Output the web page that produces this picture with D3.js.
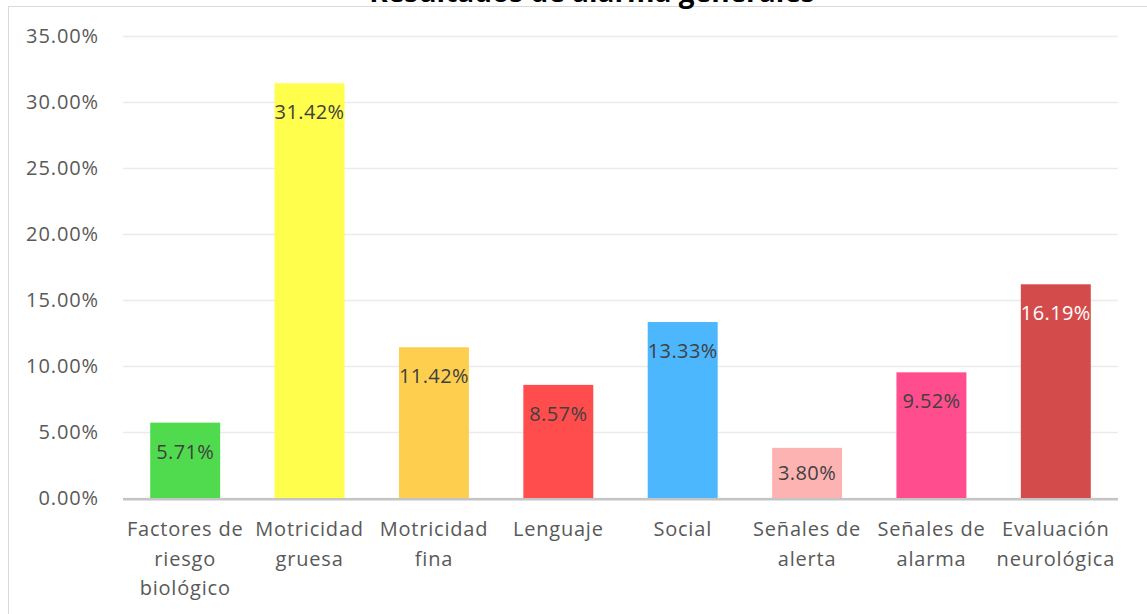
<!DOCTYPE html>
<html>
<head>
<meta charset="utf-8">
<script src="https://cdn.jsdelivr.net/npm/d3@7"></script>
<style>
  html, body { margin: 0; padding: 0; background: #ffffff; }
  svg { display: block; font-family: "Open Sans", sans-serif; }
</style>
</head>
<body>
<svg id="chart" width="1147" height="614"></svg>
<script>
// Chart data
const title = "Resultados de alarma generales";
const categories = [
  "Factores de riesgo biológico",
  "Motricidad gruesa",
  "Motricidad fina",
  "Lenguaje",
  "Social",
  "Señales de alerta",
  "Señales de alarma",
  "Evaluación neurológica"
];
const values = [0.0571, 0.3142, 0.1142, 0.0857, 0.1333, 0.0380, 0.0952, 0.1619];
const valueLabels = ["5.71%", "31.42%", "11.42%", "8.57%", "13.33%", "3.80%", "9.52%", "16.19%"];
const barColors = ["#50db4e", "#fffe4c", "#fecf4f", "#ff4d4d", "#4db7fe", "#feb3b3", "#ff4d8e", "#d44b4b"];
const labelColors = ["#404040", "#404040", "#404040", "#404040", "#404040", "#404040", "#404040", "#ffffff"];
const yTicks = [0, 0.05, 0.10, 0.15, 0.20, 0.25, 0.30, 0.35];

const svg = d3.select("#chart");
const W = 1147, H = 614;
const plot = { left: 123, right: 1118, top: 36, bottom: 498 };

// Outer chart border
svg.append("rect")
  .attr("x", 8.5).attr("y", 6.5)
  .attr("width", W + 20).attr("height", H + 20)
  .attr("fill", "none").attr("stroke", "#d9d9d9").attr("stroke-width", 1);

// Title (sits above the chart frame, mostly outside the page)
svg.append("text")
  .attr("x", 592).attr("y", 1.5)
  .attr("text-anchor", "middle")
  .attr("font-weight", "bold")
  .attr("font-size", 28)
  .attr("fill", "#000")
  .text(title);

const x = d3.scaleBand()
  .domain(categories)
  .range([plot.left, plot.right])
  .paddingInner(0.4375)
  .paddingOuter(0.21875);

const y = d3.scaleLinear()
  .domain([0, 0.35])
  .range([plot.bottom, plot.top]);

// Y axis with horizontal gridlines
const yAxis = d3.axisLeft(y)
  .tickValues(yTicks)
  .tickFormat(d3.format(".2%"))
  .tickSizeInner(-(plot.right - plot.left))
  .tickSizeOuter(0)
  .tickPadding(24);

const yg = svg.append("g")
  .attr("transform", `translate(${plot.left},0)`)
  .call(yAxis);
yg.select(".domain").remove();
yg.selectAll(".tick line").attr("stroke", "#ebebeb").attr("stroke-width", 1.5);
yg.selectAll(".tick text")
  .attr("fill", "#595959")
  .attr("font-size", 20)
  .attr("letter-spacing", "0.9px")
  .attr("font-family", "Open Sans, sans-serif");

// Bars
svg.append("g").selectAll("rect")
  .data(values)
  .join("rect")
  .attr("x", (d, i) => x(categories[i]))
  .attr("y", d => y(d))
  .attr("width", x.bandwidth())
  .attr("height", d => y(0) - y(d))
  .attr("fill", (d, i) => barColors[i]);

// Baseline
svg.append("line")
  .attr("x1", plot.left).attr("x2", plot.right)
  .attr("y1", plot.bottom + 1.2).attr("y2", plot.bottom + 1.2)
  .attr("stroke", "#c4c4c4").attr("stroke-width", 2.5);

// Value labels inside the bar tops (centred when the bar is short)
svg.append("g").selectAll("text")
  .data(values)
  .join("text")
  .attr("x", (d, i) => x(categories[i]) + x.bandwidth() / 2)
  .attr("y", d => Math.min(y(d) + 29, (y(d) + y(0)) / 2))
  .attr("dy", "0.35em")
  .attr("text-anchor", "middle")
  .attr("font-size", 20)
  .attr("letter-spacing", "0.4px")
  .attr("fill", (d, i) => labelColors[i])
  .text((d, i) => valueLabels[i]);

// X axis category labels, wrapped to the band step
const xAxis = d3.axisBottom(x).tickSize(0).tickPadding(0);
const xg = svg.append("g")
  .attr("transform", `translate(0,${plot.bottom})`)
  .call(xAxis);
xg.select(".domain").remove();
xg.selectAll(".tick text")
  .attr("fill", "#595959")
  .attr("font-size", 20)
  .attr("letter-spacing", "0.8px")
  .attr("font-family", "Open Sans, sans-serif")
  .each(function (d) {
    const text = d3.select(this);
    const words = d.split(/\s+/);
    const maxW = x.step();
    text.text(null).attr("y", 0).attr("dy", null);
    let lines = [];
    let line = [];
    const probe = text.append("tspan");
    words.forEach(w => {
      line.push(w);
      probe.text(line.join(" "));
      if (probe.node().getComputedTextLength() > maxW && line.length > 1) {
        line.pop();
        lines.push(line.join(" "));
        line = [w];
      }
    });
    lines.push(line.join(" "));
    probe.remove();
    lines.forEach((l, k) => {
      text.append("tspan")
        .attr("x", 0)
        .attr("y", 38 + k * 29.5)
        .text(l);
    });
  });
</script>
</body>
</html>
